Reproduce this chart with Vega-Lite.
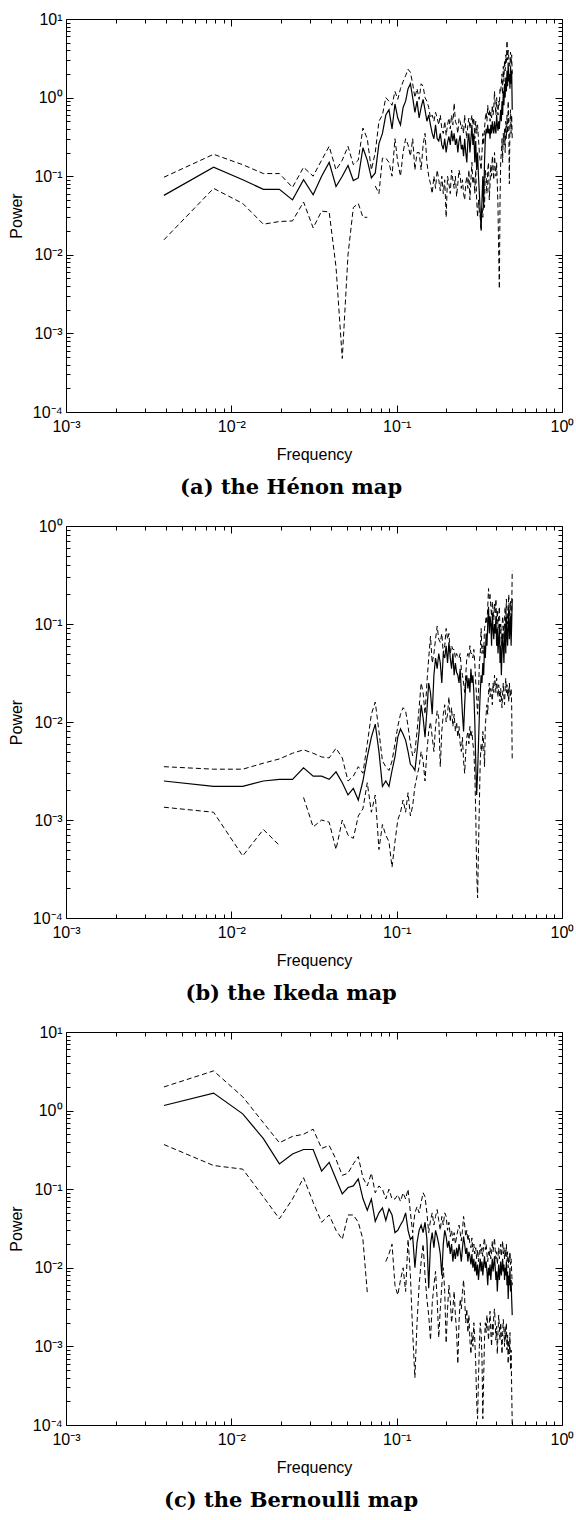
{
"$schema": "https://vega.github.io/schema/vega-lite/v6.json",
"background": "white",
"padding": {"left": 7, "top": 10, "right": 0, "bottom": 0},
"config": {
 "view": {"stroke": "black", "strokeWidth": 1},
 "axis": {"grid": false, "domain": false, "tickColor": "black", "labelColor": "black", "labelFont": "Liberation Sans", "labelFontSize": 16, "titleFont": "Liberation Sans", "titleFontSize": 16, "titleFontWeight": "normal", "titleColor": "black", "labelFlush": false, "labelOverlap": false, "labelBound": false, "tickWidth": 1},
 "title": {"font": "DejaVu Serif", "fontSize": 21, "fontWeight": "bold", "color": "black", "orient": "bottom", "anchor": "middle", "frame": "bounds", "offset": 15},
 "concat": {"spacing": 18}
},
"datasets": {
"henon": [
{"f":0.00391,"lo":0.0155,"m":0.057,"hi":0.097},
{"f":0.00781,"lo":0.07,"m":0.13,"hi":0.19},
{"f":0.01172,"lo":0.045,"m":0.09,"hi":0.14},
{"f":0.01563,"lo":0.0245,"m":0.068,"hi":0.108},
{"f":0.01953,"lo":0.0265,"m":0.068,"hi":0.108},
{"f":0.02344,"lo":0.027,"m":0.05,"hi":0.072},
{"f":0.02734,"lo":0.047,"m":0.09,"hi":0.13},
{"f":0.03125,"lo":0.022,"m":0.058,"hi":0.1},
{"f":0.03516,"lo":0.036,"m":0.1,"hi":0.16},
{"f":0.03906,"lo":0.035,"m":0.15,"hi":0.24},
{"f":0.04297,"lo":0.007,"m":0.074,"hi":0.12},
{"f":0.04688,"lo":0.00048,"m":0.1,"hi":0.16},
{"f":0.05078,"lo":0.01,"m":0.137,"hi":0.24},
{"f":0.05469,"lo":0.04,"m":0.088,"hi":0.14},
{"f":0.05859,"lo":0.045,"m":0.095,"hi":0.16},
{"f":0.0625,"lo":0.03,"m":0.23,"hi":0.41},
{"f":0.06641,"lo":0.03,"m":0.16,"hi":0.3},
{"f":0.07031,"lo":null,"m":0.095,"hi":0.12},
{"f":0.07422,"lo":0.075,"m":0.11,"hi":0.2},
{"f":0.07813,"lo":0.06,"m":0.26,"hi":0.5},
{"f":0.08203,"lo":0.17,"m":0.35,"hi":0.6},
{"f":0.08594,"lo":0.17,"m":0.6,"hi":1.0},
{"f":0.08984,"lo":0.15,"m":0.7,"hi":0.9},
{"f":0.09375,"lo":0.1,"m":0.4,"hi":0.8},
{"f":0.09766,"lo":0.3,"m":0.83,"hi":1.2},
{"f":0.10156,"lo":0.15,"m":0.55,"hi":0.95},
{"f":0.10547,"lo":0.1,"m":0.45,"hi":1.3},
{"f":0.10938,"lo":0.2,"m":0.75,"hi":1.6},
{"f":0.11328,"lo":0.3,"m":0.9,"hi":1.9},
{"f":0.11719,"lo":0.25,"m":1.3,"hi":2.3},
{"f":0.12109,"lo":0.18,"m":1.5,"hi":2.1},
{"f":0.125,"lo":0.3,"m":1.0,"hi":1.5},
{"f":0.12891,"lo":0.12,"m":0.65,"hi":1.0},
{"f":0.13281,"lo":0.2,"m":0.9,"hi":1.3},
{"f":0.13672,"lo":0.2,"m":0.55,"hi":0.95},
{"f":0.14063,"lo":0.12,"m":0.75,"hi":1.5},
{"f":0.14453,"lo":0.25,"m":0.95,"hi":1.4},
{"f":0.14844,"lo":0.35,"m":0.7,"hi":1.0},
{"f":0.15234,"lo":0.15,"m":0.5,"hi":0.9},
{"f":0.15625,"lo":0.1,"m":0.6,"hi":0.75},
{"f":0.16016,"lo":0.08,"m":0.45,"hi":0.55},
{"f":0.16406,"lo":0.06,"m":0.35,"hi":0.6},
{"f":0.16797,"lo":0.1,"m":0.3,"hi":0.5},
{"f":0.17188,"lo":0.07,"m":0.45,"hi":0.65},
{"f":0.17578,"lo":0.12,"m":0.3,"hi":0.55},
{"f":0.17969,"lo":0.09,"m":0.28,"hi":0.45},
{"f":0.18359,"lo":0.065,"m":0.35,"hi":0.6},
{"f":0.1875,"lo":0.1,"m":0.25,"hi":0.4},
{"f":0.19141,"lo":0.06,"m":0.22,"hi":0.35},
{"f":0.19531,"lo":0.09,"m":0.3,"hi":0.5},
{"f":0.19922,"lo":0.03,"m":0.2,"hi":0.33},
{"f":0.20313,"lo":0.1,"m":0.27,"hi":0.45},
{"f":0.20703,"lo":0.08,"m":0.32,"hi":0.55},
{"f":0.21094,"lo":0.06,"m":0.25,"hi":0.4},
{"f":0.21484,"lo":0.12,"m":0.38,"hi":0.6},
{"f":0.21875,"lo":0.09,"m":0.28,"hi":0.45},
{"f":0.22266,"lo":0.07,"m":0.35,"hi":0.85},
{"f":0.22656,"lo":0.1,"m":0.25,"hi":0.5},
{"f":0.23047,"lo":0.055,"m":0.3,"hi":0.45},
{"f":0.23438,"lo":0.08,"m":0.2,"hi":0.35},
{"f":0.23828,"lo":0.12,"m":0.28,"hi":0.55},
{"f":0.24219,"lo":0.1,"m":0.33,"hi":0.5},
{"f":0.24609,"lo":0.07,"m":0.22,"hi":0.4},
{"f":0.25,"lo":0.09,"m":0.25,"hi":0.45},
{"f":0.25391,"lo":0.06,"m":0.18,"hi":0.35},
{"f":0.25781,"lo":0.05,"m":0.3,"hi":0.6},
{"f":0.26172,"lo":0.08,"m":0.2,"hi":0.4},
{"f":0.26563,"lo":0.1,"m":0.15,"hi":0.3},
{"f":0.26953,"lo":0.07,"m":0.28,"hi":0.45},
{"f":0.27344,"lo":0.12,"m":0.35,"hi":0.55},
{"f":0.27734,"lo":0.05,"m":0.2,"hi":0.4},
{"f":0.28125,"lo":0.09,"m":0.3,"hi":0.5},
{"f":0.28516,"lo":0.15,"m":0.45,"hi":0.6},
{"f":0.28906,"lo":0.08,"m":0.25,"hi":0.45},
{"f":0.29297,"lo":0.1,"m":0.35,"hi":0.55},
{"f":0.29688,"lo":0.06,"m":0.15,"hi":0.3},
{"f":0.30078,"lo":0.12,"m":0.28,"hi":0.5},
{"f":0.30469,"lo":0.05,"m":0.12,"hi":0.35},
{"f":0.30859,"lo":0.03,"m":0.2,"hi":0.45},
{"f":0.3125,"lo":0.05,"m":0.1,"hi":0.3},
{"f":0.31641,"lo":0.035,"m":0.06,"hi":0.2},
{"f":0.32031,"lo":0.03,"m":0.035,"hi":0.15},
{"f":0.32422,"lo":0.02,"m":0.021,"hi":0.12},
{"f":0.32813,"lo":0.04,"m":0.05,"hi":0.2},
{"f":0.33203,"lo":0.03,"m":0.1,"hi":0.35},
{"f":0.33594,"lo":0.05,"m":0.04,"hi":0.25},
{"f":0.33984,"lo":0.04,"m":0.15,"hi":0.4},
{"f":0.34375,"lo":0.12,"m":0.3,"hi":0.55},
{"f":0.34766,"lo":0.1,"m":0.4,"hi":0.65},
{"f":0.35156,"lo":0.06,"m":0.35,"hi":0.5},
{"f":0.35547,"lo":0.12,"m":0.45,"hi":0.8},
{"f":0.35938,"lo":0.15,"m":0.35,"hi":0.6},
{"f":0.36328,"lo":0.05,"m":0.4,"hi":0.7},
{"f":0.36719,"lo":0.08,"m":0.3,"hi":0.5},
{"f":0.37109,"lo":0.14,"m":0.45,"hi":0.65},
{"f":0.375,"lo":0.1,"m":0.35,"hi":0.55},
{"f":0.37891,"lo":0.18,"m":0.5,"hi":0.8},
{"f":0.38281,"lo":0.12,"m":0.4,"hi":0.6},
{"f":0.38672,"lo":0.09,"m":0.35,"hi":0.75},
{"f":0.39063,"lo":0.2,"m":0.5,"hi":1.2},
{"f":0.39453,"lo":0.13,"m":0.4,"hi":0.8},
{"f":0.39844,"lo":0.1,"m":0.35,"hi":0.6},
{"f":0.40234,"lo":0.15,"m":0.6,"hi":1.0},
{"f":0.40625,"lo":0.08,"m":0.45,"hi":0.7},
{"f":0.41016,"lo":0.04,"m":0.38,"hi":0.6},
{"f":0.41406,"lo":0.01,"m":0.5,"hi":0.9},
{"f":0.41797,"lo":0.0037,"m":0.4,"hi":0.8},
{"f":0.42188,"lo":0.05,"m":0.55,"hi":1.3},
{"f":0.42578,"lo":0.15,"m":0.7,"hi":1.2},
{"f":0.42969,"lo":0.2,"m":0.5,"hi":1.5},
{"f":0.43359,"lo":0.3,"m":0.9,"hi":2.0},
{"f":0.4375,"lo":0.15,"m":0.6,"hi":1.1},
{"f":0.44141,"lo":0.35,"m":1.2,"hi":2.5},
{"f":0.44531,"lo":0.25,"m":0.8,"hi":1.6},
{"f":0.44922,"lo":0.4,"m":1.5,"hi":3.0},
{"f":0.45313,"lo":0.2,"m":1.0,"hi":2.2},
{"f":0.45703,"lo":0.5,"m":1.8,"hi":3.5},
{"f":0.46094,"lo":0.3,"m":1.2,"hi":2.8},
{"f":0.46484,"lo":0.6,"m":2.2,"hi":5.3},
{"f":0.46875,"lo":0.35,"m":1.4,"hi":3.0},
{"f":0.47266,"lo":0.9,"m":2.8,"hi":4.0},
{"f":0.47656,"lo":0.4,"m":1.6,"hi":3.2},
{"f":0.48047,"lo":0.08,"m":2.0,"hi":2.8},
{"f":0.48438,"lo":0.5,"m":1.3,"hi":2.5},
{"f":0.48828,"lo":0.7,"m":2.5,"hi":3.8},
{"f":0.49219,"lo":0.35,"m":1.5,"hi":2.6},
{"f":0.49609,"lo":0.6,"m":2.2,"hi":3.5},
{"f":0.5,"lo":0.3,"m":0.7,"hi":2.0}
],
"ikeda": [
{"f":0.00391,"lo":0.00135,"m":0.0025,"hi":0.0035},
{"f":0.00781,"lo":0.0012,"m":0.0022,"hi":0.0033},
{"f":0.01172,"lo":0.00043,"m":0.0022,"hi":0.0033},
{"f":0.01563,"lo":0.0008,"m":0.0025,"hi":0.0038},
{"f":0.01953,"lo":0.00055,"m":0.0026,"hi":0.0042},
{"f":0.02344,"lo":null,"m":0.0026,"hi":0.0048},
{"f":0.02734,"lo":0.0017,"m":0.0034,"hi":0.0052},
{"f":0.03125,"lo":0.00085,"m":0.0028,"hi":0.0048},
{"f":0.03516,"lo":0.001,"m":0.0028,"hi":0.0044},
{"f":0.03906,"lo":0.00095,"m":0.0026,"hi":0.0043},
{"f":0.04297,"lo":0.0005,"m":0.0031,"hi":0.0054},
{"f":0.04688,"lo":0.001,"m":0.0024,"hi":0.0043},
{"f":0.05078,"lo":0.0007,"m":0.0018,"hi":0.0025},
{"f":0.05469,"lo":0.00065,"m":0.0021,"hi":0.0028},
{"f":0.05859,"lo":0.0011,"m":0.0016,"hi":0.0035},
{"f":0.0625,"lo":0.0013,"m":0.0025,"hi":0.003},
{"f":0.06641,"lo":0.0024,"m":0.0044,"hi":0.006},
{"f":0.07031,"lo":0.0012,"m":0.007,"hi":0.012},
{"f":0.07422,"lo":0.0018,"m":0.0095,"hi":0.016},
{"f":0.07813,"lo":0.0005,"m":0.005,"hi":0.008},
{"f":0.08203,"lo":0.0009,"m":0.0022,"hi":0.004},
{"f":0.08594,"lo":0.0007,"m":0.0025,"hi":0.0035},
{"f":0.08984,"lo":0.0006,"m":0.0022,"hi":0.0032},
{"f":0.09375,"lo":0.00033,"m":0.0032,"hi":0.004},
{"f":0.09766,"lo":0.0006,"m":0.0044,"hi":0.006},
{"f":0.10156,"lo":0.001,"m":0.007,"hi":0.009},
{"f":0.10547,"lo":0.0012,"m":0.0085,"hi":0.012},
{"f":0.10938,"lo":0.0016,"m":0.0075,"hi":0.014},
{"f":0.11328,"lo":0.0012,"m":0.0065,"hi":0.013},
{"f":0.11719,"lo":0.0019,"m":0.005,"hi":0.009},
{"f":0.12109,"lo":0.0011,"m":0.0037,"hi":0.006},
{"f":0.125,"lo":0.0014,"m":0.0035,"hi":0.0045},
{"f":0.12891,"lo":0.0022,"m":0.0032,"hi":0.005},
{"f":0.13281,"lo":0.0028,"m":0.005,"hi":0.008},
{"f":0.13672,"lo":0.0035,"m":0.008,"hi":0.014},
{"f":0.14063,"lo":0.005,"m":0.015,"hi":0.025},
{"f":0.14453,"lo":0.004,"m":0.011,"hi":0.02},
{"f":0.14844,"lo":0.0025,"m":0.007,"hi":0.012},
{"f":0.15234,"lo":0.005,"m":0.013,"hi":0.025},
{"f":0.15625,"lo":0.008,"m":0.025,"hi":0.045},
{"f":0.16016,"lo":0.01,"m":0.02,"hi":0.075},
{"f":0.16406,"lo":0.007,"m":0.012,"hi":0.04},
{"f":0.16797,"lo":0.005,"m":0.03,"hi":0.05},
{"f":0.17188,"lo":0.009,"m":0.045,"hi":0.07},
{"f":0.17578,"lo":0.013,"m":0.035,"hi":0.095},
{"f":0.17969,"lo":0.011,"m":0.05,"hi":0.07},
{"f":0.18359,"lo":0.0035,"m":0.04,"hi":0.065},
{"f":0.1875,"lo":0.008,"m":0.025,"hi":0.08},
{"f":0.19141,"lo":0.012,"m":0.05,"hi":0.05},
{"f":0.19531,"lo":0.015,"m":0.045,"hi":0.06},
{"f":0.19922,"lo":0.01,"m":0.06,"hi":0.09},
{"f":0.20313,"lo":0.012,"m":0.04,"hi":0.07},
{"f":0.20703,"lo":0.018,"m":0.065,"hi":0.08},
{"f":0.21094,"lo":0.01,"m":0.045,"hi":0.05},
{"f":0.21484,"lo":0.014,"m":0.035,"hi":0.06},
{"f":0.21875,"lo":0.009,"m":0.05,"hi":0.055},
{"f":0.22266,"lo":0.012,"m":0.03,"hi":0.055},
{"f":0.22656,"lo":0.008,"m":0.04,"hi":0.045},
{"f":0.23047,"lo":0.01,"m":0.032,"hi":0.05},
{"f":0.23438,"lo":0.007,"m":0.03,"hi":0.045},
{"f":0.23828,"lo":0.009,"m":0.025,"hi":0.045},
{"f":0.24219,"lo":0.006,"m":0.035,"hi":0.05},
{"f":0.24609,"lo":0.005,"m":0.02,"hi":0.035},
{"f":0.25,"lo":0.007,"m":0.012,"hi":0.03},
{"f":0.25391,"lo":0.004,"m":0.008,"hi":0.025},
{"f":0.25781,"lo":0.003,"m":0.015,"hi":0.02},
{"f":0.26172,"lo":0.005,"m":0.025,"hi":0.03},
{"f":0.26563,"lo":0.007,"m":0.03,"hi":0.045},
{"f":0.26953,"lo":0.008,"m":0.022,"hi":0.05},
{"f":0.27344,"lo":0.006,"m":0.028,"hi":0.045},
{"f":0.27734,"lo":0.009,"m":0.02,"hi":0.06},
{"f":0.28125,"lo":0.007,"m":0.035,"hi":0.05},
{"f":0.28516,"lo":0.008,"m":0.025,"hi":0.05},
{"f":0.28906,"lo":0.006,"m":0.03,"hi":0.045},
{"f":0.29297,"lo":0.005,"m":0.02,"hi":0.055},
{"f":0.29688,"lo":0.003,"m":0.01,"hi":0.04},
{"f":0.30078,"lo":0.0012,"m":0.004,"hi":0.025},
{"f":0.30469,"lo":0.0003,"m":0.0018,"hi":0.018},
{"f":0.30859,"lo":0.00016,"m":0.003,"hi":0.012},
{"f":0.3125,"lo":0.0005,"m":0.006,"hi":0.02},
{"f":0.31641,"lo":0.0015,"m":0.012,"hi":0.04},
{"f":0.32031,"lo":0.004,"m":0.02,"hi":0.05},
{"f":0.32422,"lo":0.006,"m":0.03,"hi":0.09},
{"f":0.32813,"lo":0.005,"m":0.025,"hi":0.05},
{"f":0.33203,"lo":0.008,"m":0.04,"hi":0.06},
{"f":0.33594,"lo":0.006,"m":0.03,"hi":0.05},
{"f":0.33984,"lo":0.0035,"m":0.06,"hi":0.09},
{"f":0.34375,"lo":0.009,"m":0.045,"hi":0.1},
{"f":0.34766,"lo":0.012,"m":0.08,"hi":0.12},
{"f":0.35156,"lo":0.015,"m":0.06,"hi":0.1},
{"f":0.35547,"lo":0.012,"m":0.1,"hi":0.15},
{"f":0.35938,"lo":0.02,"m":0.15,"hi":0.23},
{"f":0.36328,"lo":0.025,"m":0.08,"hi":0.18},
{"f":0.36719,"lo":0.018,"m":0.12,"hi":0.2},
{"f":0.37109,"lo":0.022,"m":0.1,"hi":0.15},
{"f":0.375,"lo":0.02,"m":0.06,"hi":0.12},
{"f":0.37891,"lo":0.015,"m":0.13,"hi":0.17},
{"f":0.38281,"lo":0.025,"m":0.09,"hi":0.14},
{"f":0.38672,"lo":0.02,"m":0.07,"hi":0.11},
{"f":0.39063,"lo":0.03,"m":0.1,"hi":0.16},
{"f":0.39453,"lo":0.025,"m":0.08,"hi":0.13},
{"f":0.39844,"lo":0.02,"m":0.12,"hi":0.18},
{"f":0.40234,"lo":0.028,"m":0.06,"hi":0.1},
{"f":0.40625,"lo":0.022,"m":0.09,"hi":0.14},
{"f":0.41016,"lo":0.018,"m":0.05,"hi":0.09},
{"f":0.41406,"lo":0.024,"m":0.07,"hi":0.12},
{"f":0.41797,"lo":0.02,"m":0.1,"hi":0.15},
{"f":0.42188,"lo":0.016,"m":0.04,"hi":0.08},
{"f":0.42578,"lo":0.022,"m":0.06,"hi":0.1},
{"f":0.42969,"lo":0.018,"m":0.03,"hi":0.06},
{"f":0.43359,"lo":0.014,"m":0.05,"hi":0.09},
{"f":0.4375,"lo":0.02,"m":0.08,"hi":0.12},
{"f":0.44141,"lo":0.025,"m":0.06,"hi":0.1},
{"f":0.44531,"lo":0.018,"m":0.04,"hi":0.07},
{"f":0.44922,"lo":0.015,"m":0.07,"hi":0.11},
{"f":0.45313,"lo":0.022,"m":0.1,"hi":0.15},
{"f":0.45703,"lo":0.028,"m":0.05,"hi":0.09},
{"f":0.46094,"lo":0.02,"m":0.12,"hi":0.18},
{"f":0.46484,"lo":0.024,"m":0.08,"hi":0.13},
{"f":0.46875,"lo":0.018,"m":0.06,"hi":0.1},
{"f":0.47266,"lo":0.022,"m":0.1,"hi":0.15},
{"f":0.47656,"lo":0.016,"m":0.15,"hi":0.2},
{"f":0.48047,"lo":0.025,"m":0.07,"hi":0.12},
{"f":0.48438,"lo":0.02,"m":0.09,"hi":0.14},
{"f":0.48828,"lo":0.018,"m":0.12,"hi":0.17},
{"f":0.49219,"lo":0.022,"m":0.06,"hi":0.1},
{"f":0.49609,"lo":0.015,"m":0.1,"hi":0.13},
{"f":0.5,"lo":0.004,"m":0.18,"hi":0.35}
],
"bern": [
{"f":0.00391,"lo":0.37,"m":1.16,"hi":2.0},
{"f":0.00781,"lo":0.2,"m":1.67,"hi":3.2},
{"f":0.01172,"lo":0.18,"m":0.91,"hi":1.5},
{"f":0.01563,"lo":0.08,"m":0.44,"hi":0.7},
{"f":0.01953,"lo":0.042,"m":0.21,"hi":0.39},
{"f":0.02344,"lo":0.075,"m":0.28,"hi":0.47},
{"f":0.02734,"lo":0.14,"m":0.32,"hi":0.5},
{"f":0.03125,"lo":0.068,"m":0.32,"hi":0.58},
{"f":0.03516,"lo":0.038,"m":0.17,"hi":0.33},
{"f":0.03906,"lo":0.047,"m":0.22,"hi":0.36},
{"f":0.04297,"lo":0.03,"m":0.135,"hi":0.24},
{"f":0.04688,"lo":0.023,"m":0.087,"hi":0.15},
{"f":0.05078,"lo":0.047,"m":0.105,"hi":0.16},
{"f":0.05469,"lo":0.047,"m":0.11,"hi":0.21},
{"f":0.05859,"lo":0.038,"m":0.135,"hi":0.26},
{"f":0.0625,"lo":0.023,"m":0.076,"hi":0.14},
{"f":0.06641,"lo":0.0049,"m":0.054,"hi":0.11},
{"f":0.07031,"lo":null,"m":0.075,"hi":0.16},
{"f":0.07422,"lo":null,"m":0.039,"hi":0.09},
{"f":0.07813,"lo":null,"m":0.05,"hi":0.11},
{"f":0.08203,"lo":null,"m":0.058,"hi":0.1},
{"f":0.08594,"lo":0.012,"m":0.04,"hi":0.075},
{"f":0.08984,"lo":0.015,"m":0.056,"hi":0.1},
{"f":0.09375,"lo":0.02,"m":0.047,"hi":0.075},
{"f":0.09766,"lo":0.006,"m":0.028,"hi":0.075},
{"f":0.10156,"lo":0.0045,"m":0.03,"hi":0.085},
{"f":0.10547,"lo":0.007,"m":0.035,"hi":0.07},
{"f":0.10938,"lo":0.01,"m":0.04,"hi":0.09},
{"f":0.11328,"lo":0.005,"m":0.05,"hi":0.075},
{"f":0.11719,"lo":0.023,"m":0.03,"hi":0.1},
{"f":0.12109,"lo":0.008,"m":0.023,"hi":0.05},
{"f":0.125,"lo":0.0015,"m":0.025,"hi":0.028},
{"f":0.12891,"lo":0.0004,"m":0.01,"hi":0.05},
{"f":0.13281,"lo":0.002,"m":0.021,"hi":0.06},
{"f":0.13672,"lo":0.006,"m":0.03,"hi":0.05},
{"f":0.14063,"lo":0.012,"m":0.035,"hi":0.068},
{"f":0.14453,"lo":0.02,"m":0.028,"hi":0.09},
{"f":0.14844,"lo":0.008,"m":0.038,"hi":0.08},
{"f":0.15234,"lo":0.004,"m":0.023,"hi":0.05},
{"f":0.15625,"lo":0.0025,"m":0.0055,"hi":0.028},
{"f":0.16016,"lo":0.0012,"m":0.02,"hi":0.04},
{"f":0.16406,"lo":0.0035,"m":0.028,"hi":0.05},
{"f":0.16797,"lo":0.006,"m":0.018,"hi":0.035},
{"f":0.17188,"lo":0.009,"m":0.03,"hi":0.045},
{"f":0.17578,"lo":0.004,"m":0.025,"hi":0.055},
{"f":0.17969,"lo":0.0013,"m":0.02,"hi":0.04},
{"f":0.18359,"lo":0.003,"m":0.015,"hi":0.03},
{"f":0.1875,"lo":0.006,"m":0.008,"hi":0.045},
{"f":0.19141,"lo":0.01,"m":0.02,"hi":0.035},
{"f":0.19531,"lo":0.005,"m":0.03,"hi":0.05},
{"f":0.19922,"lo":0.0011,"m":0.025,"hi":0.045},
{"f":0.20313,"lo":0.003,"m":0.018,"hi":0.03},
{"f":0.20703,"lo":0.006,"m":0.022,"hi":0.038},
{"f":0.21094,"lo":0.004,"m":0.015,"hi":0.025},
{"f":0.21484,"lo":0.002,"m":0.02,"hi":0.03},
{"f":0.21875,"lo":0.003,"m":0.012,"hi":0.022},
{"f":0.22266,"lo":0.005,"m":0.017,"hi":0.028},
{"f":0.22656,"lo":0.0025,"m":0.013,"hi":0.02},
{"f":0.23047,"lo":0.0015,"m":0.018,"hi":0.025},
{"f":0.23438,"lo":0.0006,"m":0.014,"hi":0.03},
{"f":0.23828,"lo":0.002,"m":0.02,"hi":0.035},
{"f":0.24219,"lo":0.004,"m":0.016,"hi":0.028},
{"f":0.24609,"lo":0.003,"m":0.012,"hi":0.022},
{"f":0.25,"lo":0.005,"m":0.018,"hi":0.03},
{"f":0.25391,"lo":0.007,"m":0.025,"hi":0.045},
{"f":0.25781,"lo":0.004,"m":0.02,"hi":0.035},
{"f":0.26172,"lo":0.002,"m":0.015,"hi":0.025},
{"f":0.26563,"lo":0.003,"m":0.018,"hi":0.03},
{"f":0.26953,"lo":0.0015,"m":0.012,"hi":0.022},
{"f":0.27344,"lo":0.0025,"m":0.016,"hi":0.026},
{"f":0.27734,"lo":0.0012,"m":0.014,"hi":0.02},
{"f":0.28125,"lo":0.0008,"m":0.011,"hi":0.018},
{"f":0.28516,"lo":0.0015,"m":0.015,"hi":0.024},
{"f":0.28906,"lo":0.001,"m":0.01,"hi":0.016},
{"f":0.29297,"lo":0.002,"m":0.013,"hi":0.02},
{"f":0.29688,"lo":0.0012,"m":0.009,"hi":0.015},
{"f":0.30078,"lo":0.0006,"m":0.012,"hi":0.018},
{"f":0.30469,"lo":0.0002,"m":0.008,"hi":0.013},
{"f":0.30859,"lo":0.00012,"m":0.011,"hi":0.017},
{"f":0.3125,"lo":0.0004,"m":0.007,"hi":0.012},
{"f":0.31641,"lo":0.001,"m":0.01,"hi":0.016},
{"f":0.32031,"lo":0.002,"m":0.013,"hi":0.02},
{"f":0.32422,"lo":0.0015,"m":0.009,"hi":0.015},
{"f":0.32813,"lo":0.0007,"m":0.012,"hi":0.018},
{"f":0.33203,"lo":0.00012,"m":0.008,"hi":0.014},
{"f":0.33594,"lo":0.0004,"m":0.011,"hi":0.02},
{"f":0.33984,"lo":0.0012,"m":0.014,"hi":0.024},
{"f":0.34375,"lo":0.002,"m":0.01,"hi":0.017},
{"f":0.34766,"lo":0.0015,"m":0.012,"hi":0.02},
{"f":0.35156,"lo":0.0025,"m":0.009,"hi":0.015},
{"f":0.35547,"lo":0.0018,"m":0.006,"hi":0.012},
{"f":0.35938,"lo":0.0012,"m":0.01,"hi":0.016},
{"f":0.36328,"lo":0.002,"m":0.008,"hi":0.014},
{"f":0.36719,"lo":0.0028,"m":0.011,"hi":0.018},
{"f":0.37109,"lo":0.0015,"m":0.007,"hi":0.013},
{"f":0.375,"lo":0.001,"m":0.01,"hi":0.016},
{"f":0.37891,"lo":0.002,"m":0.013,"hi":0.022},
{"f":0.38281,"lo":0.0014,"m":0.009,"hi":0.016},
{"f":0.38672,"lo":0.0025,"m":0.011,"hi":0.019},
{"f":0.39063,"lo":0.003,"m":0.014,"hi":0.024},
{"f":0.39453,"lo":0.002,"m":0.01,"hi":0.017},
{"f":0.39844,"lo":0.0012,"m":0.007,"hi":0.013},
{"f":0.40234,"lo":0.0018,"m":0.009,"hi":0.016},
{"f":0.40625,"lo":0.0008,"m":0.005,"hi":0.011},
{"f":0.41016,"lo":0.0015,"m":0.008,"hi":0.014},
{"f":0.41406,"lo":0.0025,"m":0.011,"hi":0.018},
{"f":0.41797,"lo":0.0018,"m":0.007,"hi":0.013},
{"f":0.42188,"lo":0.0012,"m":0.009,"hi":0.016},
{"f":0.42578,"lo":0.002,"m":0.012,"hi":0.02},
{"f":0.42969,"lo":0.0014,"m":0.008,"hi":0.014},
{"f":0.43359,"lo":0.0008,"m":0.01,"hi":0.017},
{"f":0.4375,"lo":0.0015,"m":0.013,"hi":0.022},
{"f":0.44141,"lo":0.0022,"m":0.009,"hi":0.015},
{"f":0.44531,"lo":0.0016,"m":0.011,"hi":0.018},
{"f":0.44922,"lo":0.001,"m":0.007,"hi":0.013},
{"f":0.45313,"lo":0.0018,"m":0.01,"hi":0.017},
{"f":0.45703,"lo":0.0012,"m":0.008,"hi":0.014},
{"f":0.46094,"lo":0.002,"m":0.012,"hi":0.02},
{"f":0.46484,"lo":0.0009,"m":0.006,"hi":0.012},
{"f":0.46875,"lo":0.0014,"m":0.009,"hi":0.016},
{"f":0.47266,"lo":0.0006,"m":0.004,"hi":0.01},
{"f":0.47656,"lo":0.0012,"m":0.008,"hi":0.014},
{"f":0.48047,"lo":0.0008,"m":0.006,"hi":0.012},
{"f":0.48438,"lo":0.0015,"m":0.01,"hi":0.016},
{"f":0.48828,"lo":0.0005,"m":0.005,"hi":0.011},
{"f":0.49219,"lo":0.0009,"m":0.007,"hi":0.013},
{"f":0.49609,"lo":0.0003,"m":0.004,"hi":0.009},
{"f":0.5,"lo":0.0001,"m":0.0025,"hi":0.006}
]
},
"vconcat": [
{
 "data": {"name": "henon"},
 "title": {"text": "(a) the Hénon map"},
 "width": 496, "height": 393,
 "transform": [{"fold": ["lo", "m", "hi"], "as": ["s", "p"]}],
 "layer": [
  {
   "transform": [{"filter": "datum.s !== 'm'"}],
   "mark": {"type": "line", "color": "black", "strokeWidth": 1, "strokeDash": [5, 3], "invalid": "break-paths-show-domains"},
   "encoding": {
    "x": {"field": "f", "type": "quantitative", "scale": {"type": "log", "domain": [0.001, 1], "nice": false},
     "axis": {"orient": "bottom", "title": "Frequency", "values": [0.001,0.002,0.003,0.004,0.005,0.006,0.007,0.008,0.009,0.01,0.02,0.03,0.04,0.05,0.06,0.07,0.08,0.09,0.1,0.2,0.3,0.4,0.5,0.6,0.7,0.8,0.9,1],
      "labelExpr": "abs(log(datum.value)/LN10 - round(log(datum.value)/LN10)) < 0.01 ? '10' + replace(replace(replace(replace(replace(replace(toString(round(log(datum.value)/LN10)),'-','⁻'),'0','⁰'),'1','¹'),'2','²'),'3','³'),'4','⁴') : ''",
      "tickSize": {"condition": {"test": "abs(log(datum.value)/LN10 - round(log(datum.value)/LN10)) < 0.01", "value": -7}, "value": -4},
      "labelPadding": 13, "titlePadding": 9}},
    "y": {"field": "p", "type": "quantitative", "scale": {"type": "log", "domain": [0.0001, 10], "nice": false},
     "axis": {"orient": "left", "title": "Power", "values": [0.0001,0.0002,0.0003,0.0004,0.0005,0.0006,0.0007,0.0008,0.0009,0.001,0.002,0.003,0.004,0.005,0.006,0.007,0.008,0.009,0.01,0.02,0.03,0.04,0.05,0.06,0.07,0.08,0.09,0.1,0.2,0.3,0.4,0.5,0.6,0.7,0.8,0.9,1,2,3,4,5,6,7,8,9,10],
      "labelExpr": "abs(log(datum.value)/LN10 - round(log(datum.value)/LN10)) < 0.01 ? '10' + replace(replace(replace(replace(replace(replace(toString(round(log(datum.value)/LN10)),'-','⁻'),'0','⁰'),'1','¹'),'2','²'),'3','³'),'4','⁴') : ''",
      "tickSize": {"condition": {"test": "abs(log(datum.value)/LN10 - round(log(datum.value)/LN10)) < 0.01", "value": -7}, "value": -4},
      "labelPadding": 11, "titlePadding": 8}},
    "detail": {"field": "s"}
   }
  },
  {
   "transform": [{"filter": "datum.s === 'm'"}],
   "mark": {"type": "line", "color": "black", "strokeWidth": 1.2},
   "encoding": {
    "x": {"field": "f", "type": "quantitative", "scale": {"type": "log", "domain": [0.001, 1], "nice": false},
     "axis": {"orient": "top", "title": null, "labels": false, "values": [0.001,0.002,0.003,0.004,0.005,0.006,0.007,0.008,0.009,0.01,0.02,0.03,0.04,0.05,0.06,0.07,0.08,0.09,0.1,0.2,0.3,0.4,0.5,0.6,0.7,0.8,0.9,1],
      "tickSize": {"condition": {"test": "abs(log(datum.value)/LN10 - round(log(datum.value)/LN10)) < 0.01", "value": -7}, "value": -4}}},
    "y": {"field": "p", "type": "quantitative", "scale": {"type": "log", "domain": [0.0001, 10], "nice": false},
     "axis": {"orient": "right", "title": null, "labels": false, "values": [0.0001,0.0002,0.0003,0.0004,0.0005,0.0006,0.0007,0.0008,0.0009,0.001,0.002,0.003,0.004,0.005,0.006,0.007,0.008,0.009,0.01,0.02,0.03,0.04,0.05,0.06,0.07,0.08,0.09,0.1,0.2,0.3,0.4,0.5,0.6,0.7,0.8,0.9,1,2,3,4,5,6,7,8,9,10],
      "tickSize": {"condition": {"test": "abs(log(datum.value)/LN10 - round(log(datum.value)/LN10)) < 0.01", "value": -7}, "value": -4}}}
   }
  }
 ],
 "resolve": {"axis": {"x": "independent", "y": "independent"}}
},
{
 "data": {"name": "ikeda"},
 "title": {"text": "(b) the Ikeda map"},
 "width": 496, "height": 392,
 "transform": [{"fold": ["lo", "m", "hi"], "as": ["s", "p"]}],
 "layer": [
  {
   "transform": [{"filter": "datum.s !== 'm'"}],
   "mark": {"type": "line", "color": "black", "strokeWidth": 1, "strokeDash": [5, 3], "invalid": "break-paths-show-domains"},
   "encoding": {
    "x": {"field": "f", "type": "quantitative", "scale": {"type": "log", "domain": [0.001, 1], "nice": false},
     "axis": {"orient": "bottom", "title": "Frequency", "values": [0.001,0.002,0.003,0.004,0.005,0.006,0.007,0.008,0.009,0.01,0.02,0.03,0.04,0.05,0.06,0.07,0.08,0.09,0.1,0.2,0.3,0.4,0.5,0.6,0.7,0.8,0.9,1],
      "labelExpr": "abs(log(datum.value)/LN10 - round(log(datum.value)/LN10)) < 0.01 ? '10' + replace(replace(replace(replace(replace(replace(toString(round(log(datum.value)/LN10)),'-','⁻'),'0','⁰'),'1','¹'),'2','²'),'3','³'),'4','⁴') : ''",
      "tickSize": {"condition": {"test": "abs(log(datum.value)/LN10 - round(log(datum.value)/LN10)) < 0.01", "value": -7}, "value": -4},
      "labelPadding": 13, "titlePadding": 9}},
    "y": {"field": "p", "type": "quantitative", "scale": {"type": "log", "domain": [0.0001, 1], "nice": false},
     "axis": {"orient": "left", "title": "Power", "values": [0.0001,0.0002,0.0003,0.0004,0.0005,0.0006,0.0007,0.0008,0.0009,0.001,0.002,0.003,0.004,0.005,0.006,0.007,0.008,0.009,0.01,0.02,0.03,0.04,0.05,0.06,0.07,0.08,0.09,0.1,0.2,0.3,0.4,0.5,0.6,0.7,0.8,0.9,1],
      "labelExpr": "abs(log(datum.value)/LN10 - round(log(datum.value)/LN10)) < 0.01 ? '10' + replace(replace(replace(replace(replace(replace(toString(round(log(datum.value)/LN10)),'-','⁻'),'0','⁰'),'1','¹'),'2','²'),'3','³'),'4','⁴') : ''",
      "tickSize": {"condition": {"test": "abs(log(datum.value)/LN10 - round(log(datum.value)/LN10)) < 0.01", "value": -7}, "value": -4},
      "labelPadding": 11, "titlePadding": 8}},
    "detail": {"field": "s"}
   }
  },
  {
   "transform": [{"filter": "datum.s === 'm'"}],
   "mark": {"type": "line", "color": "black", "strokeWidth": 1.2},
   "encoding": {
    "x": {"field": "f", "type": "quantitative", "scale": {"type": "log", "domain": [0.001, 1], "nice": false},
     "axis": {"orient": "top", "title": null, "labels": false, "values": [0.001,0.002,0.003,0.004,0.005,0.006,0.007,0.008,0.009,0.01,0.02,0.03,0.04,0.05,0.06,0.07,0.08,0.09,0.1,0.2,0.3,0.4,0.5,0.6,0.7,0.8,0.9,1],
      "tickSize": {"condition": {"test": "abs(log(datum.value)/LN10 - round(log(datum.value)/LN10)) < 0.01", "value": -7}, "value": -4}}},
    "y": {"field": "p", "type": "quantitative", "scale": {"type": "log", "domain": [0.0001, 1], "nice": false},
     "axis": {"orient": "right", "title": null, "labels": false, "values": [0.0001,0.0002,0.0003,0.0004,0.0005,0.0006,0.0007,0.0008,0.0009,0.001,0.002,0.003,0.004,0.005,0.006,0.007,0.008,0.009,0.01,0.02,0.03,0.04,0.05,0.06,0.07,0.08,0.09,0.1,0.2,0.3,0.4,0.5,0.6,0.7,0.8,0.9,1],
      "tickSize": {"condition": {"test": "abs(log(datum.value)/LN10 - round(log(datum.value)/LN10)) < 0.01", "value": -7}, "value": -4}}}
   }
  }
 ],
 "resolve": {"axis": {"x": "independent", "y": "independent"}}
},
{
 "data": {"name": "bern"},
 "title": {"text": "(c) the Bernoulli map"},
 "width": 496, "height": 393,
 "transform": [{"fold": ["lo", "m", "hi"], "as": ["s", "p"]}],
 "layer": [
  {
   "transform": [{"filter": "datum.s !== 'm'"}],
   "mark": {"type": "line", "color": "black", "strokeWidth": 1, "strokeDash": [5, 3], "invalid": "break-paths-show-domains"},
   "encoding": {
    "x": {"field": "f", "type": "quantitative", "scale": {"type": "log", "domain": [0.001, 1], "nice": false},
     "axis": {"orient": "bottom", "title": "Frequency", "values": [0.001,0.002,0.003,0.004,0.005,0.006,0.007,0.008,0.009,0.01,0.02,0.03,0.04,0.05,0.06,0.07,0.08,0.09,0.1,0.2,0.3,0.4,0.5,0.6,0.7,0.8,0.9,1],
      "labelExpr": "abs(log(datum.value)/LN10 - round(log(datum.value)/LN10)) < 0.01 ? '10' + replace(replace(replace(replace(replace(replace(toString(round(log(datum.value)/LN10)),'-','⁻'),'0','⁰'),'1','¹'),'2','²'),'3','³'),'4','⁴') : ''",
      "tickSize": {"condition": {"test": "abs(log(datum.value)/LN10 - round(log(datum.value)/LN10)) < 0.01", "value": -7}, "value": -4},
      "labelPadding": 13, "titlePadding": 9}},
    "y": {"field": "p", "type": "quantitative", "scale": {"type": "log", "domain": [0.0001, 10], "nice": false},
     "axis": {"orient": "left", "title": "Power", "values": [0.0001,0.0002,0.0003,0.0004,0.0005,0.0006,0.0007,0.0008,0.0009,0.001,0.002,0.003,0.004,0.005,0.006,0.007,0.008,0.009,0.01,0.02,0.03,0.04,0.05,0.06,0.07,0.08,0.09,0.1,0.2,0.3,0.4,0.5,0.6,0.7,0.8,0.9,1,2,3,4,5,6,7,8,9,10],
      "labelExpr": "abs(log(datum.value)/LN10 - round(log(datum.value)/LN10)) < 0.01 ? '10' + replace(replace(replace(replace(replace(replace(toString(round(log(datum.value)/LN10)),'-','⁻'),'0','⁰'),'1','¹'),'2','²'),'3','³'),'4','⁴') : ''",
      "tickSize": {"condition": {"test": "abs(log(datum.value)/LN10 - round(log(datum.value)/LN10)) < 0.01", "value": -7}, "value": -4},
      "labelPadding": 11, "titlePadding": 8}},
    "detail": {"field": "s"}
   }
  },
  {
   "transform": [{"filter": "datum.s === 'm'"}],
   "mark": {"type": "line", "color": "black", "strokeWidth": 1.2},
   "encoding": {
    "x": {"field": "f", "type": "quantitative", "scale": {"type": "log", "domain": [0.001, 1], "nice": false},
     "axis": {"orient": "top", "title": null, "labels": false, "values": [0.001,0.002,0.003,0.004,0.005,0.006,0.007,0.008,0.009,0.01,0.02,0.03,0.04,0.05,0.06,0.07,0.08,0.09,0.1,0.2,0.3,0.4,0.5,0.6,0.7,0.8,0.9,1],
      "tickSize": {"condition": {"test": "abs(log(datum.value)/LN10 - round(log(datum.value)/LN10)) < 0.01", "value": -7}, "value": -4}}},
    "y": {"field": "p", "type": "quantitative", "scale": {"type": "log", "domain": [0.0001, 10], "nice": false},
     "axis": {"orient": "right", "title": null, "labels": false, "values": [0.0001,0.0002,0.0003,0.0004,0.0005,0.0006,0.0007,0.0008,0.0009,0.001,0.002,0.003,0.004,0.005,0.006,0.007,0.008,0.009,0.01,0.02,0.03,0.04,0.05,0.06,0.07,0.08,0.09,0.1,0.2,0.3,0.4,0.5,0.6,0.7,0.8,0.9,1,2,3,4,5,6,7,8,9,10],
      "tickSize": {"condition": {"test": "abs(log(datum.value)/LN10 - round(log(datum.value)/LN10)) < 0.01", "value": -7}, "value": -4}}}
   }
  }
 ],
 "resolve": {"axis": {"x": "independent", "y": "independent"}}
}
]
}
